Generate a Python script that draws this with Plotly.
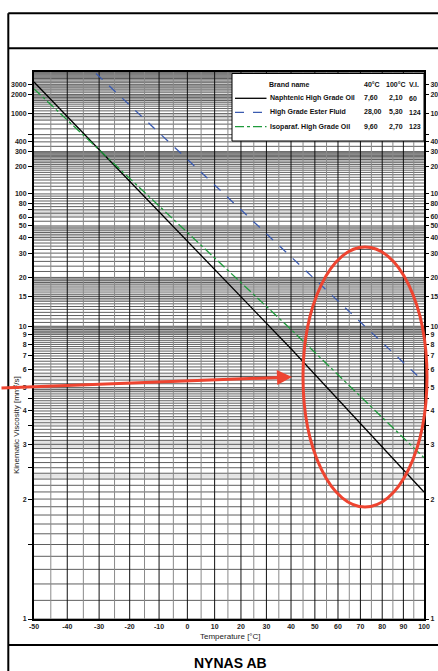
import numpy as np
import plotly.graph_objects as go

# ---------------- data ----------------
brand_names = ["Naphtenic High Grade Oil", "High Grade Ester Fluid", "Isoparaf. High Grade Oil"]
visc_40 = [7.60, 28.00, 9.60]
visc_100 = [2.10, 5.30, 2.70]
vis_index = [60, 124, 123]

# curve points (temperature degC, viscosity mm2/s)
naph_temp = [-50, 40, 100]
naph_visc = [3300, 7.60, 2.10]
ester_temp = [-31, 40, 100]
ester_visc = [4700, 28.00, 5.30]
iso_temp = [-50, 40, 100]
iso_visc = [2500, 9.60, 2.70]

x_ticks = [-50, -40, -30, -20, -10, 0, 10, 20, 30, 40, 50, 60, 70, 80, 90, 100]
y_labeled = [3000, 2000, 1000, 400, 300, 200, 100, 80, 60, 50, 40, 30, 20, 15, 10, 9, 8, 7, 6, 5, 4, 3, 2, 1]
y_unlabeled = [500, 70, 4.5, 3.5, 2.5, 1.5]

# grid definitions (lo, hi, step)
major_sets = [(1.0, 2.0, 0.1), (2.0, 5.0, 0.1), (5.0, 10.0, 0.2), (10, 20, 0.5), (20, 50, 2),
              (50, 100, 5), (100, 300, 10), (300, 500, 50), (500, 1000, 100), (1000, 2000, 100),
              (2000, 5000, 200)]
minor_sets = [(1500, 3000, 50), (800, 1000, 20), (250, 300, 5), (60, 70, 1), (38, 50, 0.5),
              (18, 20, 0.2), (14, 15.5, 0.1), (9, 10, 0.05), (4.8, 5.0, 0.02), (5.5, 5.7, 0.05),
              (3.5, 3.8, 0.05), (2.9, 3.1, 0.02), (2.3, 2.4, 0.02)]


# ---------------- ASTM D341 scales ----------------
def T(v):
    v = np.asarray(v, float)
    z = v + 0.7 + np.exp(-1.47 - 1.84 * v - 0.51 * v ** 2)
    return np.log10(np.log10(z))


def X(t):
    return np.log10(np.asarray(t, float) + 273.15)


x0, x1 = float(X(-50)), float(X(100))
y0, y1 = float(T(1)), float(T(5000))

L, R, TOP, B = 34, 14, 72, 52
W, H = 438, 671
PW, PH = W - L - R, H - TOP - B


def px(xp):
    return (xp - L) / PW


def py(yp):
    return (H - B - yp) / PH


def vals(sets):
    out = []
    for lo, hi, st in sets:
        out += list(np.round(np.arange(lo, hi + st / 2, st), 4))
    return sorted(set(out))


major = vals(major_sets)
minor = [v for v in vals(minor_sets) if v not in set(major)]

fig = go.Figure()


def hlines(values, color, width):
    xs, ys = [], []
    for v in values:
        t = float(T(v))
        xs += [x0, x1, None]
        ys += [t, t, None]
    fig.add_trace(go.Scatter(x=xs, y=ys, mode="lines", line=dict(color=color, width=width),
                             hoverinfo="skip"))


def vlines(temps, color, width):
    xs, ys = [], []
    for t in temps:
        xv = float(X(t))
        xs += [xv, xv, None]
        ys += [y0, y1, None]
    fig.add_trace(go.Scatter(x=xs, y=ys, mode="lines", line=dict(color=color, width=width),
                             hoverinfo="skip"))


hlines(minor, "#c4c4c4", 0.5)
hlines(major, "#1a1a1a", 0.7)
vlines([t + 5 for t in x_ticks[:-1]], "#8a8a8a", 1)
vlines(x_ticks[1:-1], "#111111", 1)

# data curves
fig.add_trace(go.Scatter(x=X(naph_temp), y=T(naph_visc), mode="lines",
                         line=dict(color="black", width=1.3), name=brand_names[0]))
fig.add_trace(go.Scatter(x=X(ester_temp), y=T(ester_visc), mode="lines",
                         line=dict(color="#3b5bb0", width=1.3, dash="dash"), name=brand_names[1]))
fig.add_trace(go.Scatter(x=X(iso_temp), y=T(iso_visc), mode="lines",
                         line=dict(color="#1f9a3c", width=1.3, dash="dashdot"), name=brand_names[2]))
# dummy for right axis
fig.add_trace(go.Scatter(x=[x0], y=[y0], yaxis="y2", mode="markers", marker=dict(opacity=0),
                         hoverinfo="skip"))

all_y = y_labeled + y_unlabeled
all_txt = [str(v) for v in y_labeled] + [""] * len(y_unlabeled)
tickfont = dict(family="Liberation Sans, Arial", size=7, color="#222", weight="bold")

fig.update_layout(
    width=W, height=H, margin=dict(l=L, r=R, t=TOP, b=B, autoexpand=False),
    plot_bgcolor="white", paper_bgcolor="white", showlegend=False,
    xaxis=dict(range=[x0, x1], tickvals=list(X(x_ticks)), ticktext=[str(t) for t in x_ticks],
               showgrid=False, zeroline=False, showline=True, linewidth=2, linecolor="black",
               mirror=True, ticks="", tickfont=tickfont, automargin=False),
    yaxis=dict(range=[y0, y1], tickvals=list(T(all_y)), ticktext=all_txt, showgrid=False,
               zeroline=False, showline=True, linewidth=2, linecolor="black", mirror=True,
               ticks="outside", ticklen=4, tickcolor="black", tickfont=tickfont,
               automargin=False),
    yaxis2=dict(range=[y0, y1], overlaying="y", side="right", anchor="x",
                tickvals=list(T(all_y)), ticktext=all_txt, showgrid=False, zeroline=False,
                showline=False, ticks="outside", ticklen=4, tickcolor="black", tickfont=tickfont,
                automargin=False),
)

font_b = dict(family="Liberation Sans, Arial", size=7, color="#111", weight="bold")
shapes = []
annotations = []

# outer frame lines
for (xa, ya, xb, yb) in [(8.3, 13.3, 450, 13.3), (8.3, 48.3, 450, 48.3), (8.3, 645, 450, 645),
                         (8.3, 13.3, 8.3, 690)]:
    shapes.append(dict(type="line", xref="paper", yref="paper", x0=px(xa), y0=py(ya),
                       x1=px(xb), y1=py(yb), line=dict(color="black", width=2)))

# legend box
shapes.append(dict(type="rect", xref="paper", yref="paper", x0=px(232), x1=1.0,
                   y0=py(141), y1=py(73.5), fillcolor="white", line=dict(color="black", width=1),
                   layer="above"))
row_y = [98.3, 112.3, 126.7]
styles = [("black", "solid"), ("#3b5bb0", "dash"), ("#1f9a3c", "dashdot")]
for i, name in enumerate(brand_names):
    c, d = styles[i]
    shapes.append(dict(type="line", xref="paper", yref="paper", x0=px(235), x1=px(266.5),
                       y0=py(row_y[i]), y1=py(row_y[i]), line=dict(color=c, width=1.3, dash=d),
                       layer="above"))
    annotations.append(dict(text=name, x=px(268), y=py(row_y[i]), xref="paper", yref="paper",
                            xanchor="left", yanchor="middle", showarrow=False, font=font_b))
    annotations.append(dict(text=f"{visc_40[i]:.2f}".replace(".", ","), x=px(361.5),
                            y=py(row_y[i]), xref="paper", yref="paper", xanchor="left",
                            yanchor="middle", showarrow=False, font=font_b))
    annotations.append(dict(text=f"{visc_100[i]:.2f}".replace(".", ","), x=px(386.7),
                            y=py(row_y[i]), xref="paper", yref="paper", xanchor="left",
                            yanchor="middle", showarrow=False, font=font_b))
    annotations.append(dict(text=str(vis_index[i]), x=px(406.7), y=py(row_y[i]), xref="paper",
                            yref="paper", xanchor="left", yanchor="middle", showarrow=False,
                            font=font_b))
for txt, xx in [("Brand name", 267), ("40°C", 361.7), ("100°C", 384.3), ("V.I.", 406.7)]:
    annotations.append(dict(text=txt, x=px(xx), y=py(84.3), xref="paper", yref="paper",
                            xanchor="left", yanchor="middle", showarrow=False, font=font_b))

# axis titles and footer
annotations.append(dict(text="Temperature [°C]", x=px(230), y=py(636), xref="paper",
                        yref="paper", showarrow=False, xanchor="center", yanchor="middle",
                        font=dict(family="Liberation Sans, Arial", size=8, color="#222")))
annotations.append(dict(text="Kinematic Viscosity [mm²/s]", x=px(16), y=py(425), xref="paper",
                        yref="paper", showarrow=False, textangle=-90, xanchor="center",
                        yanchor="middle",
                        font=dict(family="Liberation Sans, Arial", size=8, color="#222")))
annotations.append(dict(text="NYNAS AB", x=px(230), y=py(663), xref="paper", yref="paper",
                        showarrow=False, xanchor="center", yanchor="middle",
                        font=dict(family="Liberation Sans, Arial", size=14, color="black",
                                  weight="bold")))

# red highlight ellipse and arrow
shapes.append(dict(type="circle", xref="paper", yref="paper", x0=px(303), x1=px(427),
                   y0=py(507), y1=py(247), line=dict(color="#ee4430", width=3), layer="above"))
annotations.append(dict(text="", x=px(292), y=py(377), xref="paper", yref="paper",
                        ax=-300, ay=11, axref="pixel", ayref="pixel", showarrow=True,
                        arrowhead=2, arrowsize=1, arrowwidth=3, arrowcolor="#ee4430"))

fig.update_layout(shapes=shapes, annotations=annotations)
fig.write_html("out.html", config={"displayModeBar": False},
               post_script="document.body.style.margin='0';")
